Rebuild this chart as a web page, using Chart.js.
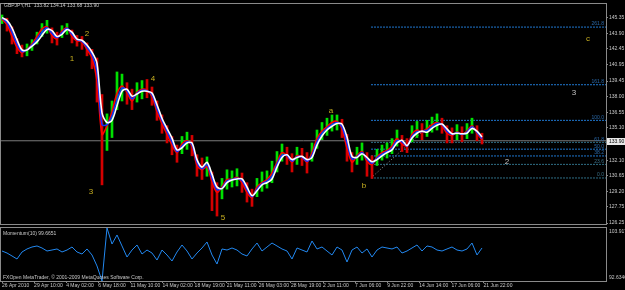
<!DOCTYPE html>
<html>
<head>
<meta charset="utf-8">
<title>GBPJPY,H1</title>
<script src="https://cdn.jsdelivr.net/npm/chart.js@4/dist/chart.umd.min.js"></script>
<style>
  html, body { margin: 0; padding: 0; background: #000; }
  #wrap { position: relative; width: 625px; height: 290px; background: #000; overflow: hidden; }
  #priceChart { position: absolute; left: 0; top: 0; }
  #momChart   { position: absolute; left: 0; top: 226px; }
</style>
</head>
<body>
<div id="wrap">
  <canvas id="priceChart" width="625" height="228"></canvas>
  <canvas id="momChart" width="625" height="64"></canvas>
</div>
<script>
// ── Data (one sample every ~10 bars) ────────────────────────────────────────
var headerText = 'GBPJPY,H1  133.82 134.14 133.68 133.90';
var bidPrice   = 133.90;

var barHigh = [
  145.6,145.3,144.5,143.4,142.8,142.9,143.3,144.0,144.8,145.1,
  144.4,144.0,144.6,144.8,144.2,143.7,143.6,143.0,142.4,141.6,
  138.2,136.4,137.6,140.3,140.1,139.3,138.7,139.3,139.5,139.6,
  138.9,137.6,136.3,135.3,134.3,133.5,134.3,134.7,134.4,132.6,
  132.3,132.4,131.0,130.0,130.4,131.2,131.1,131.3,130.9,130.0,
  129.4,130.4,131.0,131.1,132.0,132.9,133.6,133.3,132.7,133.3,
  133.2,132.8,133.7,134.9,135.6,136.0,136.3,136.3,135.9,134.5,
  132.8,133.3,133.7,132.8,132.5,133.1,133.5,133.7,134.1,134.9,
  134.4,134.1,135.3,135.7,135.5,135.8,136.1,136.4,136.0,135.3,
  135.1,135.4,135.2,135.5,136.0,135.3,134.6
];
var barLow = [
  144.8,144.1,142.9,142.0,141.7,141.8,142.3,142.9,143.6,143.9,
  143.0,142.8,143.5,143.8,143.0,142.7,142.4,141.8,140.6,137.5,
  129.8,133.0,134.2,136.8,137.6,137.3,136.8,137.5,137.8,137.9,
  137.2,135.8,134.6,133.7,132.6,131.9,132.7,133.1,132.5,130.6,
  130.3,130.6,127.4,126.9,128.5,129.4,129.6,129.7,129.1,128.2,
  127.8,128.7,129.2,129.5,130.0,131.0,132.0,131.7,131.0,131.7,
  131.6,130.9,132.0,133.2,134.0,134.4,134.8,134.9,134.2,132.0,
  131.0,131.7,132.1,130.6,130.4,131.6,132.1,132.3,132.7,133.4,
  132.9,132.8,133.8,134.2,134.0,134.3,134.7,134.9,134.6,133.7,
  133.7,134.0,133.8,134.1,134.6,133.9,133.6
];
// fast (red), middle (blue) and slow (white) moving averages
var maFast = [
  145.2,144.7,143.6,142.6,142.1,142.4,142.9,143.6,144.3,144.5,
  143.7,143.4,144.1,144.4,143.6,143.2,143.1,142.4,141.6,139.5,
  134.5,135.3,136.6,138.3,139.0,138.4,137.6,138.4,138.7,138.6,
  138.0,136.6,135.5,134.5,133.5,132.8,133.6,133.9,133.4,131.6,
  131.2,131.5,130.1,129.1,129.6,130.3,130.3,130.5,130.0,129.1,
  128.6,129.6,130.0,130.3,130.9,131.9,132.8,132.5,131.9,132.5,
  132.4,131.9,132.8,134.1,134.8,135.2,135.6,135.7,135.0,133.2,
  131.9,132.5,132.9,132.0,131.7,132.4,132.8,133.0,133.4,134.1,
  133.6,133.4,134.5,134.9,134.7,135.0,135.4,135.6,135.3,134.6,
  134.4,134.7,134.5,134.8,135.3,134.6,134.0
];
var maMid = [
  145.3,144.9,144.0,142.9,142.2,142.35,142.8,143.35,144.0,144.4,
  143.9,143.5,143.95,144.35,143.8,143.3,143.15,142.6,141.9,140.3,
  135.4,135.4,136.2,137.7,138.8,138.55,137.8,138.3,138.6,138.55,
  138.2,136.9,135.8,134.8,133.8,132.9,133.4,133.8,133.55,131.9,
  131.3,131.7,130.45,129.35,129.5,130.15,130.3,130.4,130.2,129.35,
  128.7,129.4,129.9,130.15,130.6,131.7,132.55,132.55,132.0,132.4,
  132.4,132.0,132.55,133.8,134.6,135.05,135.4,135.6,135.2,133.7,
  132.2,132.4,132.8,132.2,131.8,132.3,132.65,132.9,133.2,133.9,
  133.8,133.4,134.3,134.75,134.75,134.85,135.2,135.5,135.4,134.8,
  134.5,134.65,134.5,134.7,135.2,134.7,134.1
];
var maSlow = [
  145.35,145.1,144.4,143.3,142.35,142.35,142.7,143.1,143.7,144.25,
  144.15,143.6,143.8,144.25,144.0,143.35,143.25,142.8,142.15,141.1,
  136.5,135.6,135.8,137.15,138.5,138.7,138.05,138.25,138.5,138.5,
  138.35,137.25,136.0,135.05,134.15,133.05,133.25,133.7,133.7,132.15,
  131.45,131.9,130.8,129.6,129.45,130.0,130.25,130.35,130.35,129.6,
  128.8,129.25,129.8,130.0,130.35,131.45,132.35,132.6,132.15,132.35,
  132.45,132.15,132.35,133.5,134.35,134.9,135.25,135.5,135.45,134.25,
  132.45,132.35,132.7,132.35,131.95,132.15,132.5,132.8,133.05,133.7,
  133.95,133.45,134.15,134.6,134.8,134.7,135.05,135.35,135.45,135.0,
  134.55,134.6,134.55,134.6,135.05,134.8,134.25
];
var momentum = [
  99.02,98.59,97.96,97.32,98.81,99.45,99.87,100.09,99.66,99.02,
  99.23,99.45,98.81,99.23,99.87,98.81,98.38,99.45,98.17,95.83,
  92.6346,103.917,100.51,102.43,100.09,97.74,99.23,100.30,98.38,99.23,
  98.59,97.10,99.23,98.17,96.89,98.81,100.30,99.02,97.32,98.59,
  99.66,100.94,98.17,96.25,99.45,99.23,99.66,99.23,98.38,97.96,
  99.45,100.72,99.02,99.87,100.72,100.09,99.45,99.02,97.32,99.66,
  99.23,98.81,101.15,99.45,99.87,99.02,98.17,99.87,99.23,96.68,
  99.23,99.87,98.59,99.45,97.74,99.23,99.87,99.66,99.45,99.87,
  98.59,99.02,99.66,100.30,99.02,100.09,99.87,99.23,99.02,99.45,
  99.87,99.23,99.02,99.45,100.72,98.17,99.6651
];

var priceTicks = [145.35,143.90,142.45,140.95,139.45,138.00,136.55,135.10,133.65,132.10,130.65,129.20,127.75,126.25];
var momTicks   = [103.917, 92.6346];
var timeLabels = ['26 Apr 2010','29 Apr 10:00','4 May 02:00','6 May 18:00','11 May 10:00','14 May 02:00',
                  '18 May 19:00','21 May 11:00','26 May 03:00','28 May 19:00','2 Jun 11:00','7 Jun 06:00',
                  '9 Jun 22:00','14 Jun 14:00','17 Jun 06:00','21 Jun 22:00'];
var timeStep = 6.42;   // samples between time labels

// Fibonacci retracement drawn from the "b" low
var fibLow    = 130.44;
var fibHigh   = 135.80;
var fibStart  = 73.8;
var fibEnd    = 86.6;
var fibRatios = [0, 23.6, 38.2, 50, 61.8, 100, 161.8, 261.8];

// Wave labels: [text, sample, price, light]
var waves = [
  ['1', 14.0, 141.53, false], ['2', 17.0, 143.89, false], ['3', 17.8, 129.16, false],
  ['4', 30.2, 139.62, false], ['5', 44.2, 126.71, false], ['a', 65.8, 136.71, false],
  ['b', 72.4, 129.71, false], ['c', 117.2, 143.35, false],
  ['3', 114.4, 138.35, true], ['2', 101.0, 131.98, true]
];

// ── Scale ranges ───────────────────────────────────────────────────────────
var X_MIN = -0.2, X_MAX = 120.8;
var PRICE_MIN = 126.16, PRICE_MAX = 146.62;

// ── Style ──────────────────────────────────────────────────────────────────
var FONT   = '"Liberation Sans", Arial, sans-serif';
var FRAME  = '#8a8a8a';
var TEXT   = '#c8c8c8';
var fibColor = function (r) { return (r === 0 || r === 23.6 || r === 61.8) ? '#2f6f86' : '#1f78d0'; };

Chart.defaults.font.family = FONT;
Chart.defaults.font.size = 5;
Chart.defaults.color = TEXT;

function pts(arr) { return arr.map(function (v, i) { return { x: i, y: v }; }); }
function fibPrice(r) { return fibLow + (fibHigh - fibLow) * r / 100; }

// ── Price window ───────────────────────────────────────────────────────────
var datasets = [];

fibRatios.forEach(function (r) {
  datasets.push({
    type: 'line', data: [{ x: fibStart, y: fibPrice(r) }, { x: X_MAX, y: fibPrice(r) }],
    borderColor: fibColor(r), borderWidth: 1, borderDash: [2, 1], pointRadius: 0, order: 20
  });
});
datasets.push({
  type: 'line', data: [{ x: fibStart, y: fibLow }, { x: fibEnd, y: fibHigh }],
  borderColor: '#9a9a9a', borderWidth: 1, borderDash: [1, 2], pointRadius: 0, order: 19
});
datasets.push({
  type: 'line', data: [{ x: X_MIN, y: bidPrice }, { x: X_MAX, y: bidPrice }],
  borderColor: '#7a7a7a', borderWidth: 1, pointRadius: 0, order: 18
});
datasets.push({
  type: 'bar',
  data: barHigh.map(function (h, i) { return { x: i, y: [barLow[i], h] }; }),
  backgroundColor: maFast.map(function (v, i) { return (i === 0 || v >= maFast[i - 1]) ? '#00e000' : '#d40000'; }),
  barThickness: 2, order: 10
});
datasets.push({ type: 'line', data: pts(maFast), borderColor: '#ff0000', borderWidth: 1.6, pointRadius: 0, tension: 0.3, order: 3 });
datasets.push({ type: 'line', data: pts(maMid),  borderColor: '#1030ff', borderWidth: 1.6, pointRadius: 0, tension: 0.3, order: 2 });
datasets.push({ type: 'line', data: pts(maSlow), borderColor: '#ffffff', borderWidth: 1.6, pointRadius: 0, tension: 0.3, order: 1 });

var priceOverlay = {
  id: 'priceOverlay',
  afterDraw: function (chart) {
    var ctx = chart.ctx, a = chart.chartArea, xs = chart.scales.x, ys = chart.scales.y;
    ctx.save();
    ctx.strokeStyle = FRAME; ctx.lineWidth = 1;
    ctx.strokeRect(a.left - 0.5, a.top - 0.5, a.right - a.left + 1, a.bottom - a.top + 1);

    ctx.font = '5px ' + FONT; ctx.fillStyle = TEXT;
    ctx.textAlign = 'left'; ctx.textBaseline = 'middle';
    ctx.fillText(headerText, 4, 5.5);

    // fibo level captions
    ctx.textAlign = 'right'; ctx.textBaseline = 'bottom';
    fibRatios.forEach(function (r) {
      ctx.fillStyle = r === 0 || r === 23.6 ? '#3a7088' : '#2a68a8';
      ctx.fillText(r.toFixed(1), a.right - 2, ys.getPixelForValue(fibPrice(r)) - 0.5);
    });

    // wave counts
    ctx.font = '8px ' + FONT; ctx.textAlign = 'center'; ctx.textBaseline = 'middle';
    waves.forEach(function (w) {
      ctx.fillStyle = w[3] ? '#c4c4c4' : '#c8b020';
      ctx.fillText(w[0], xs.getPixelForValue(w[1]), ys.getPixelForValue(w[2]));
    });

    // current price tag
    var by = Math.round(ys.getPixelForValue(bidPrice));
    ctx.fillStyle = '#e8e8e8';
    ctx.fillRect(a.right + 1, by - 3, 625 - a.right - 1, 7);
    ctx.fillStyle = '#000'; ctx.font = '5px ' + FONT;
    ctx.textAlign = 'left'; ctx.textBaseline = 'middle';
    ctx.fillText(bidPrice.toFixed(2), a.right + 3, by + 0.5);
    ctx.restore();
  }
};

new Chart(document.getElementById('priceChart'), {
  type: 'line',
  data: { datasets: datasets },
  options: {
    responsive: false, animation: false, events: [],
    layout: { padding: { left: 1, top: 1, right: 0, bottom: 2 } },
    plugins: { legend: { display: false }, tooltip: { enabled: false } },
    scales: {
      x: { type: 'linear', display: false, min: X_MIN, max: X_MAX, offset: false },
      y: {
        position: 'right', min: PRICE_MIN, max: PRICE_MAX,
        afterFit: function (s) { s.width = 19; },
        afterBuildTicks: function (s) { s.ticks = priceTicks.map(function (v) { return { value: v }; }); },
        ticks: { autoSkip: false, padding: 1, color: TEXT, font: { size: 5 },
                 callback: function (v) { return Number(v).toFixed(2); } },
        grid: { drawOnChartArea: false, color: FRAME, tickLength: 2 },
        border: { color: FRAME }
      }
    }
  },
  plugins: [priceOverlay]
});

// ── Momentum window ────────────────────────────────────────────────────────
var momOverlay = {
  id: 'momOverlay',
  afterDraw: function (chart) {
    var ctx = chart.ctx, a = chart.chartArea, ys = chart.scales.y;
    ctx.save();
    ctx.strokeStyle = FRAME; ctx.lineWidth = 1;
    ctx.strokeRect(a.left - 0.5, a.top - 0.5, a.right - a.left + 1, a.bottom - a.top + 1);
    ctx.font = '5px ' + FONT; ctx.fillStyle = TEXT;
    ctx.textAlign = 'left'; ctx.textBaseline = 'middle';
    ctx.fillText('Momentum(10) ' + momentum[momentum.length - 1].toFixed(4), 3, 7.5);
    ctx.fillText('FXOpen MetaTrader, \u00a9 2001-2009 MetaQuotes Software Corp.', 3, 51.5);
    ctx.textBaseline = 'top';
    ctx.fillText(String(momTicks[0]), a.right + 3, ys.getPixelForValue(momTicks[0]) + 1);
    ctx.textBaseline = 'bottom';
    ctx.fillText(String(momTicks[1]), a.right + 3, ys.getPixelForValue(momTicks[1]) - 1);
    ctx.restore();
  }
};

new Chart(document.getElementById('momChart'), {
  type: 'line',
  data: { datasets: [{ data: pts(momentum), borderColor: '#2288f0', borderWidth: 1, pointRadius: 0, tension: 0 }] },
  options: {
    responsive: false, animation: false, events: [],
    layout: { padding: { left: 1, top: 2, right: 0, bottom: 0 } },
    plugins: { legend: { display: false }, tooltip: { enabled: false } },
    scales: {
      x: {
        type: 'linear', min: X_MIN, max: X_MAX, offset: false,
        afterFit: function (s) { s.height = 9; },
        afterBuildTicks: function (s) { s.ticks = timeLabels.map(function (t, k) { return { value: k * timeStep }; }); },
        ticks: { autoSkip: false, maxRotation: 0, minRotation: 0, align: 'start', padding: 0,
                 color: TEXT, font: { size: 5 },
                 callback: function (v, i) { return timeLabels[i]; } },
        grid: { drawOnChartArea: false, color: FRAME, tickLength: 2 },
        border: { color: FRAME }
      },
      y: {
        position: 'right', min: momTicks[1], max: momTicks[0],
        afterFit: function (s) { s.width = 19; },
        ticks: { display: false },
        grid: { drawOnChartArea: false, drawTicks: false },
        border: { color: FRAME }
      }
    }
  },
  plugins: [momOverlay]
});
</script>
</body>
</html>
